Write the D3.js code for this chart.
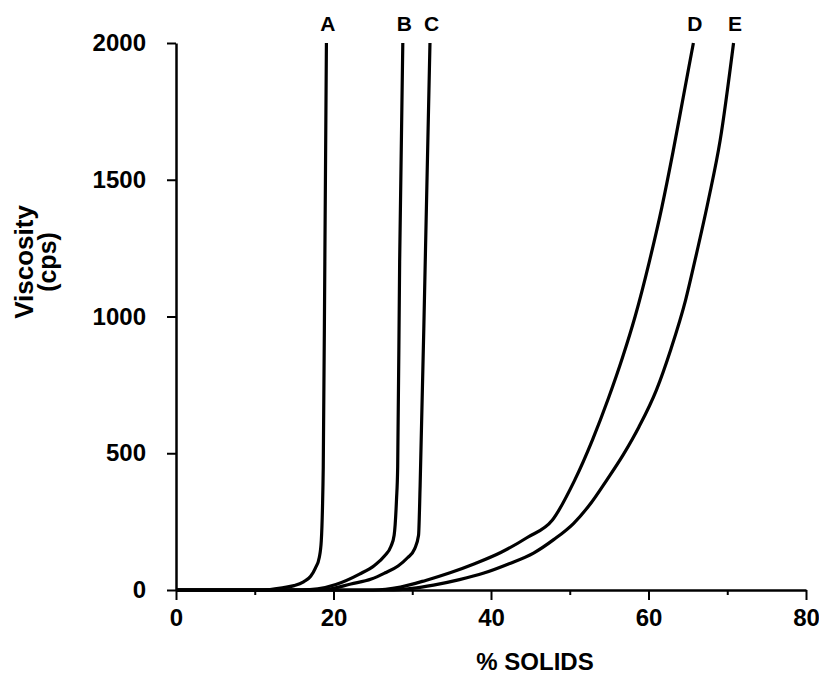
<!DOCTYPE html>
<html>
<head>
<meta charset="utf-8">
<script src="https://cdn.jsdelivr.net/npm/d3@7"></script>
<style>
  body { margin: 0; background: #fff; }
  text { font-family: "Liberation Sans", Arial, sans-serif; font-weight: bold; fill: #000; }
</style>
</head>
<body>
<div id="chart"></div>
<script>
// data: [% solids, viscosity cps]
const curveA = [[0,0],[11,0],[13.5,8],[15,16],[16.2,30],[17.1,50],[17.7,80],[18.2,120],[18.45,180],[18.6,300],[18.7,450],[18.9,1200],[19.1,2000]];
const curveB = [[0,0],[16,0],[18,4],[20.3,20],[23.3,58],[25.2,90],[26.5,125],[27.3,160],[27.7,200],[28.0,330],[28.15,450],[28.4,1200],[28.8,2000]];
const curveC = [[0,0],[17,0],[19.3,3],[22.2,22],[24.8,40],[26.5,62],[28.2,88],[29.4,118],[30.3,150],[30.8,200],[31.0,380],[31.65,1200],[32.25,2000]];
const curveD = [[0,0],[25,0],[28.5,11],[31.7,35],[34.8,63],[38,97],[41.3,138],[44.6,192],[47.8,256],[50.6,400],[52.9,550],[54.9,700],[56.7,850],[58.3,1000],[60.1,1200],[61.7,1400],[63.1,1600],[64.4,1800],[65.7,2000]];
const curveE = [[0,0],[27,0],[30,6],[32.7,18],[36,38],[39.1,62],[42.3,96],[45.4,135],[48,185],[50.5,244],[52.7,318],[54.7,402],[56.8,495],[58.8,597],[61.0,731],[62.8,877],[64.7,1059],[65.9,1205],[67.6,1425],[69.1,1644],[70.8,2000]];
const curveNames = ["A", "B", "C", "D", "E"];
const xTicks = [0, 20, 40, 60, 80];
const xMinorTicks = [10, 30, 50, 70];
const yTicks = [0, 500, 1000, 1500, 2000];

const margin = { top: 43, right: 13, bottom: 86, left: 176 };
const width = 819 - margin.left - margin.right;
const height = 676 - margin.top - margin.bottom;

const svg = d3.select("#chart")
    .append("svg")
    .attr("width", 819)
    .attr("height", 676)
    .append("g")
    .attr("transform", `translate(${margin.left},${margin.top})`);

const x = d3.scaleLinear().domain([0, 80]).range([0, width]);
const y = d3.scaleLinear().domain([0, 2000]).range([height, 0]);

// axes
svg.append("g")
    .attr("transform", `translate(0,${height})`)
    .call(d3.axisBottom(x).tickValues(xTicks).tickSize(10).tickPadding(9).tickSizeOuter(0));
svg.append("g")
    .attr("transform", `translate(0,${height})`)
    .call(d3.axisBottom(x).tickValues(xMinorTicks).tickSize(5).tickFormat("").tickSizeOuter(0))
    .select(".domain").remove();
svg.append("g")
    .call(d3.axisLeft(y).tickValues(yTicks).tickFormat(d3.format("d")).tickSize(9).tickPadding(21).tickSizeOuter(0));

svg.selectAll(".domain").attr("stroke", "#000").attr("stroke-width", 2.5);
svg.selectAll(".tick line").attr("stroke", "#000").attr("stroke-width", 2);
svg.selectAll(".tick text")
    .attr("font-size", "24px")
    .attr("font-family", "Liberation Sans, Arial, sans-serif")
    .attr("font-weight", "bold")
    .attr("fill", "#000");

// curves
const line = d3.line()
    .x(d => x(d[0]))
    .y(d => y(d[1]))
    .curve(d3.curveMonotoneX);

const curves = [curveA, curveB, curveC, curveD, curveE];
curves.forEach((c, i) => {
    svg.append("path")
        .datum(c)
        .attr("fill", "none")
        .attr("stroke", "#000")
        .attr("stroke-width", 3.2)
        .attr("stroke-linejoin", "round")
        .attr("d", line);

    const last = c[c.length - 1];
    svg.append("text")
        .attr("x", x(last[0]) + 1.5)
        .attr("y", -12)
        .attr("text-anchor", "middle")
        .attr("font-size", "21px")
        .text(curveNames[i]);
});

// axis labels
svg.append("text")
    .attr("x", 535 - margin.left)
    .attr("y", 670 - margin.top)
    .attr("text-anchor", "middle")
    .attr("font-size", "24px")
    .text("% SOLIDS");

svg.append("text")
    .attr("transform", "rotate(-90)")
    .attr("x", -(262 - margin.top))
    .attr("y", 33 - margin.left)
    .attr("text-anchor", "middle")
    .attr("font-size", "26px")
    .text("Viscosity");

svg.append("text")
    .attr("transform", "rotate(-90)")
    .attr("x", -(262 - margin.top))
    .attr("y", 56 - margin.left)
    .attr("text-anchor", "middle")
    .attr("font-size", "25px")
    .text("(cps)");
</script>
</body>
</html>
